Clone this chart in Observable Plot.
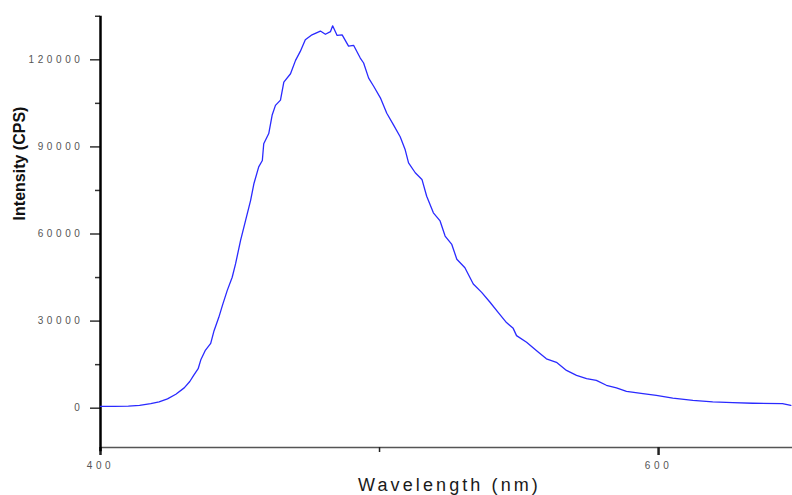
<!DOCTYPE html>
<html>
<head>
<meta charset="utf-8">
<script src="https://cdn.jsdelivr.net/npm/d3@7"></script>
<script src="https://cdn.jsdelivr.net/npm/@observablehq/plot@0.6"></script>
<style>
  html, body { margin: 0; padding: 0; background: #fff; }
</style>
</head>
<body>
<div id="chart"></div>
<script>
const wavelength = [400.0, 405.0, 410.0, 414.0, 418.0, 421.0, 424.0, 427.0, 430.0, 432.0, 433.5, 435.0, 436.0, 437.5, 439.5, 440.7, 442.4, 443.7, 445.4, 447.2, 448.4, 450.2, 452.0, 453.8, 455.0, 456.7, 458.0, 458.5, 460.3, 461.5, 462.7, 464.5, 465.7, 468.1, 469.9, 471.6, 473.4, 475.8, 478.8, 480.6, 482.4, 483.2, 484.8, 486.6, 488.9, 490.7, 493.1, 494.3, 496.1, 497.9, 500.3, 502.6, 505.0, 507.4, 509.2, 510.4, 512.8, 515.2, 516.9, 519.3, 521.7, 523.5, 525.9, 527.7, 530.6, 533.6, 536.6, 539.6, 542.5, 545.5, 547.9, 549.1, 552.7, 556.3, 559.8, 563.4, 567.0, 570.6, 574.2, 577.7, 581.3, 584.9, 588.5, 594.4, 599.2, 605.1, 612.3, 619.4, 626.6, 633.7, 644.4, 647.4];
const intensity = [600, 600, 700, 1000, 1600, 2200, 3200, 4800, 7000, 9200, 11500, 13600, 16800, 19800, 22300, 26700, 31300, 35400, 40500, 45100, 49700, 57800, 64700, 71600, 77400, 83100, 85300, 91100, 94600, 100900, 104300, 106100, 112300, 115200, 119800, 122900, 126900, 128600, 129900, 128800, 129700, 131700, 128400, 128600, 124700, 125000, 120600, 118900, 113700, 110900, 106900, 101600, 97600, 93500, 89000, 84500, 81100, 78800, 73000, 67300, 64500, 59300, 56400, 51300, 48400, 42800, 39900, 36500, 33000, 29500, 27500, 25000, 22700, 19800, 17000, 15800, 13000, 11300, 10200, 9600, 7900, 7000, 5800, 5000, 4400, 3500, 2700, 2200, 1900, 1700, 1600, 1000];

const yMajor = [0, 30000, 60000, 90000, 120000];
const yMinor = [15000, 45000, 75000, 105000, 135000];
const xMajor = [400, 600];
const xMinor = [500];
const xDomain = [400, 648];
const yDomain = [-13536, 135260];
const yAxisExtent = [-15000, 135000];

const data = wavelength.map((w, i) => ({w, v: intensity[i]}));

const chart = Plot.plot({
  width: 792,
  height: 495,
  marginLeft: 100,
  marginRight: 0,
  marginTop: 15,
  marginBottom: 48,
  x: {domain: xDomain, axis: null},
  y: {domain: yDomain, axis: null},
  style: {fontFamily: "'Liberation Sans', Arial, sans-serif", background: "#fff", overflow: "visible"},
  marks: [
    Plot.ruleY([yDomain[0]], {stroke: "#555", strokeWidth: 1.5}),
    Plot.axisY(yMajor, {anchor: "left", tickSize: 10, tickPadding: 7, fontSize: 10, stroke: "#333", fill: "#555", strokeWidth: 1.5, label: null, tickFormat: d3.format("d")}),
    Plot.axisY(yMinor, {anchor: "left", tickSize: 5, stroke: "#333", strokeWidth: 1.5, label: null, tickFormat: () => ""}),
    Plot.axisX(xMajor, {anchor: "bottom", tickSize: 8, tickPadding: 6, fontSize: 10, stroke: "#222", fill: "#555", strokeWidth: 2.5, label: null, tickFormat: d3.format("d")}),
    Plot.axisX(xMinor, {anchor: "bottom", tickSize: 5, stroke: "#222", strokeWidth: 1.5, label: null, tickFormat: () => ""}),
    Plot.ruleX([xDomain[0]], {y1: yAxisExtent[0], y2: yAxisExtent[1], stroke: "#000", strokeWidth: 2.5}),
    Plot.line(data, {x: "w", y: "v", stroke: "#2a2aff", strokeWidth: 1.3}),
    Plot.text(["Wavelength (nm)"], {frameAnchor: "bottom", dx: 3, dy: 38, lineAnchor: "middle", fontSize: 18, fill: "#1a1a1a", text: d => d}),
    Plot.text(["Intensity (CPS)"], {frameAnchor: "left", textAnchor: "middle", rotate: -90, dx: -81, dy: -68, fontSize: 16, fontWeight: "bold", fill: "#111", text: d => d})
  ]
});

d3.select(chart).selectAll("[aria-label='y-axis tick label'] text, [aria-label='x-axis tick label'] text")
  .attr("letter-spacing", "3.6px");
d3.select(chart).selectAll("[aria-label='text'] text").filter(function() { return this.textContent === "Wavelength (nm)"; })
  .attr("letter-spacing", "3.1px");

document.getElementById("chart").appendChild(chart);
</script>
</body>
</html>
